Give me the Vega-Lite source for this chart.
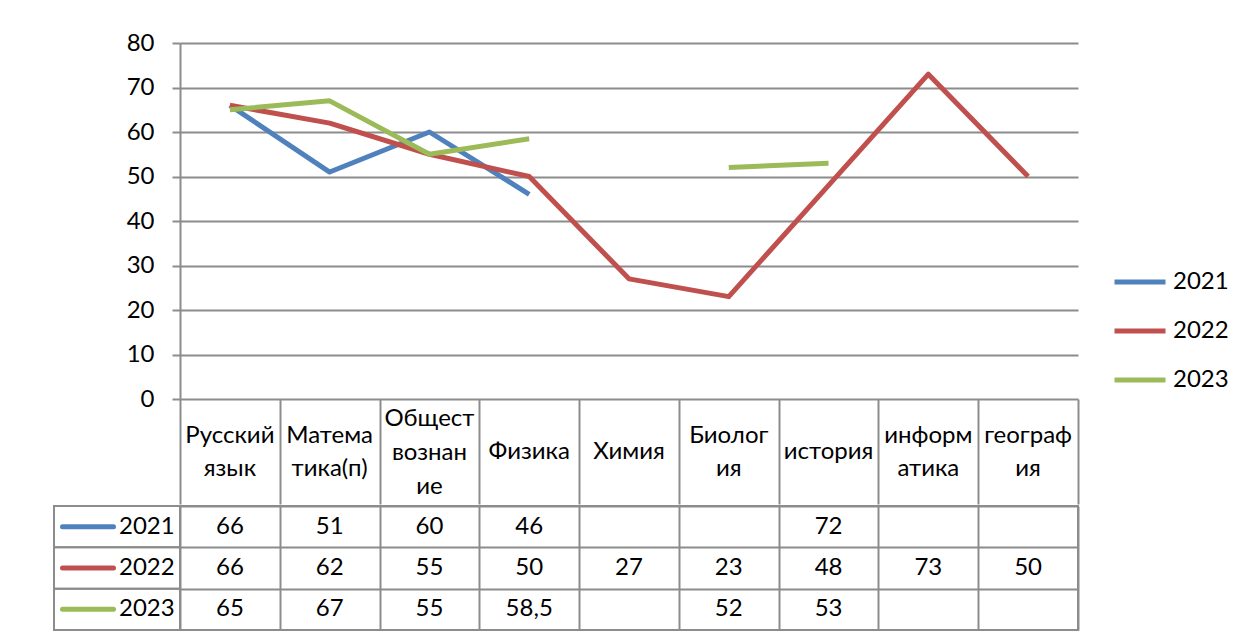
{
  "$schema": "https://vega.github.io/schema/vega-lite/v6.json",
  "background": "white",
  "padding": {"left": 52, "top": 31, "right": 0, "bottom": 0},
  "datasets": {
    "scores": [
      {"subject": "Русский язык", "year": "2021", "value": 66},
      {"subject": "Русский язык", "year": "2022", "value": 66},
      {"subject": "Русский язык", "year": "2023", "value": 65},
      {"subject": "Математика(п)", "year": "2021", "value": 51},
      {"subject": "Математика(п)", "year": "2022", "value": 62},
      {"subject": "Математика(п)", "year": "2023", "value": 67},
      {"subject": "Обществознание", "year": "2021", "value": 60},
      {"subject": "Обществознание", "year": "2022", "value": 55},
      {"subject": "Обществознание", "year": "2023", "value": 55},
      {"subject": "Физика", "year": "2021", "value": 46},
      {"subject": "Физика", "year": "2022", "value": 50},
      {"subject": "Физика", "year": "2023", "value": 58.5},
      {"subject": "Химия", "year": "2021", "value": null},
      {"subject": "Химия", "year": "2022", "value": 27},
      {"subject": "Химия", "year": "2023", "value": null},
      {"subject": "Биология", "year": "2021", "value": null},
      {"subject": "Биология", "year": "2022", "value": 23},
      {"subject": "Биология", "year": "2023", "value": 52},
      {"subject": "история", "year": "2021", "value": 72},
      {"subject": "история", "year": "2022", "value": 48},
      {"subject": "история", "year": "2023", "value": 53},
      {"subject": "информатика", "year": "2021", "value": null},
      {"subject": "информатика", "year": "2022", "value": 73},
      {"subject": "информатика", "year": "2023", "value": null},
      {"subject": "география", "year": "2021", "value": null},
      {"subject": "география", "year": "2022", "value": 50},
      {"subject": "география", "year": "2023", "value": null}
    ],
    "subjects": [
      {"subject": "Русский язык", "label": "Русский\nязык"},
      {"subject": "Математика(п)", "label": "Матема\nтика(п)"},
      {"subject": "Обществознание", "label": "Общест\nвознан\nие"},
      {"subject": "Физика", "label": "Физика"},
      {"subject": "Химия", "label": "Химия"},
      {"subject": "Биология", "label": "Биолог\nия"},
      {"subject": "история", "label": "история"},
      {"subject": "информатика", "label": "информ\nатика"},
      {"subject": "география", "label": "географ\nия"}
    ],
    "series": [
      {"year": "2021"},
      {"year": "2022"},
      {"year": "2023"}
    ]
  },
  "config": {
    "font": "Lato",
    "locale": {"number": {"decimal": ",", "thousands": " ", "grouping": [3], "currency": ["", " ₽"]}},
    "view": {"stroke": "#8c8c8c", "strokeWidth": 2},
    "axis": {
      "gridColor": "#8c8c8c", "gridWidth": 2, "gridOpacity": 1,
      "domainColor": "#8c8c8c", "domainWidth": 2,
      "tickColor": "#8c8c8c", "tickWidth": 2,
      "labelColor": "#000000", "labelFont": "Lato", "labelFontSize": 24
    },
    "text": {"font": "Lato", "fontSize": 24, "color": "#000000"}
  },
  "spacing": 0,
  "vconcat": [
    {
      "spacing": 0,
      "bounds": "flush",
      "hconcat": [
        {
          "width": 126, "height": 356,
          "view": {"stroke": "transparent"},
          "data": {"values": [{}]},
          "mark": {"type": "text", "text": ""}
        },
        {
          "width": 898, "height": 356,
          "view": {"stroke": null},
          "encoding": {
            "x": {
              "field": "subject", "type": "nominal",
              "sort": ["Русский язык", "Математика(п)", "Обществознание", "Физика", "Химия", "Биология", "история", "информатика", "география"],
              "scale": {"type": "band", "paddingInner": 0, "paddingOuter": 0},
              "axis": {"title": null, "labels": false, "domain": false, "grid": false, "ticks": true, "tickBand": "extent", "tickSize": 105}
            }
          },
          "layer": [
            {
              "data": {"name": "scores"},
              "mark": {"type": "line", "strokeWidth": 5, "strokeCap": "butt", "strokeJoin": "round", "invalid": "break-paths-filter-domains"},
              "encoding": {
                "y": {
                  "field": "value", "type": "quantitative",
                  "scale": {"domain": [0, 80], "nice": false},
                  "axis": {"title": null, "values": [0, 10, 20, 30, 40, 50, 60, 70, 80], "grid": true, "tickSize": 8, "labelPadding": 18, "domain": true}
                },
                "color": {
                  "field": "year", "type": "nominal",
                  "scale": {"domain": ["2021", "2022", "2023"], "range": ["#4F81BD", "#C0504D", "#9BBB59"]},
                  "legend": {
                    "title": null, "orient": "none", "legendX": 1058, "legendY": 211,
                    "symbolType": "stroke", "symbolSize": 2601, "symbolStrokeWidth": 5,
                    "labelFont": "Lato", "labelFontSize": 24, "labelColor": "#000000",
                    "labelOffset": 5, "rowPadding": 9, "padding": 0
                  }
                }
              }
            },
            {
              "data": {"name": "subjects"},
              "transform": [{"filter": "length(split(datum.label, '\\n')) == 1"}],
              "mark": {"type": "text", "baseline": "middle", "align": "center", "dy": 53},
              "encoding": {"y": {"datum": 0, "type": "quantitative"}, "text": {"field": "label"}}
            },
            {
              "data": {"name": "subjects"},
              "transform": [{"filter": "length(split(datum.label, '\\n')) == 2"}],
              "mark": {"type": "text", "baseline": "middle", "align": "center", "lineBreak": "\n", "lineHeight": 33, "dy": 37},
              "encoding": {"y": {"datum": 0, "type": "quantitative"}, "text": {"field": "label"}}
            },
            {
              "data": {"name": "subjects"},
              "transform": [{"filter": "length(split(datum.label, '\\n')) == 3"}],
              "mark": {"type": "text", "baseline": "middle", "align": "center", "lineBreak": "\n", "lineHeight": 34, "dy": 20},
              "encoding": {"y": {"datum": 0, "type": "quantitative"}, "text": {"field": "label"}}
            }
          ]
        }
      ]
    },
    {
      "spacing": 0,
      "bounds": "flush",
      "hconcat": [
        {
          "width": 126, "height": 124,
          "view": {"stroke": null},
          "data": {"name": "series"},
          "encoding": {
            "y": {
              "field": "year", "type": "nominal",
              "sort": ["2021", "2022", "2023"],
              "scale": {"type": "band", "paddingInner": 0, "paddingOuter": 0},
              "axis": null
            }
          },
          "layer": [
            {
              "mark": {"type": "rect", "fill": "transparent", "stroke": "#8c8c8c", "strokeWidth": 2}
            },
            {
              "mark": {"type": "point", "shape": "stroke", "size": 2601, "strokeWidth": 5, "strokeCap": "round", "filled": false, "opacity": 1, "xOffset": -29},
              "encoding": {
                "color": {"field": "year", "type": "nominal", "legend": null}
              }
            },
            {
              "mark": {"type": "text", "align": "left", "baseline": "middle", "dx": 2},
              "encoding": {"text": {"field": "year"}}
            }
          ]
        },
        {
          "width": 898, "height": 124,
          "data": {"name": "scores"},
          "transform": [{"filter": "isValid(datum.value)"}],
          "mark": {"type": "text", "baseline": "middle", "align": "center"},
          "encoding": {
            "x": {
              "field": "subject", "type": "nominal",
              "sort": ["Русский язык", "Математика(п)", "Обществознание", "Физика", "Химия", "Биология", "история", "информатика", "география"],
              "scale": {"type": "band", "paddingInner": 0, "paddingOuter": 0},
              "axis": {"title": null, "labels": false, "ticks": false, "domain": false, "grid": true, "tickBand": "extent"}
            },
            "y": {
              "field": "year", "type": "nominal",
              "sort": ["2021", "2022", "2023"],
              "scale": {"type": "band", "paddingInner": 0, "paddingOuter": 0},
              "axis": {"title": null, "labels": false, "ticks": false, "domain": false, "grid": true, "tickBand": "extent"}
            },
            "text": {"field": "value", "type": "quantitative", "format": ".1~f"}
          }
        }
      ]
    }
  ]
}
